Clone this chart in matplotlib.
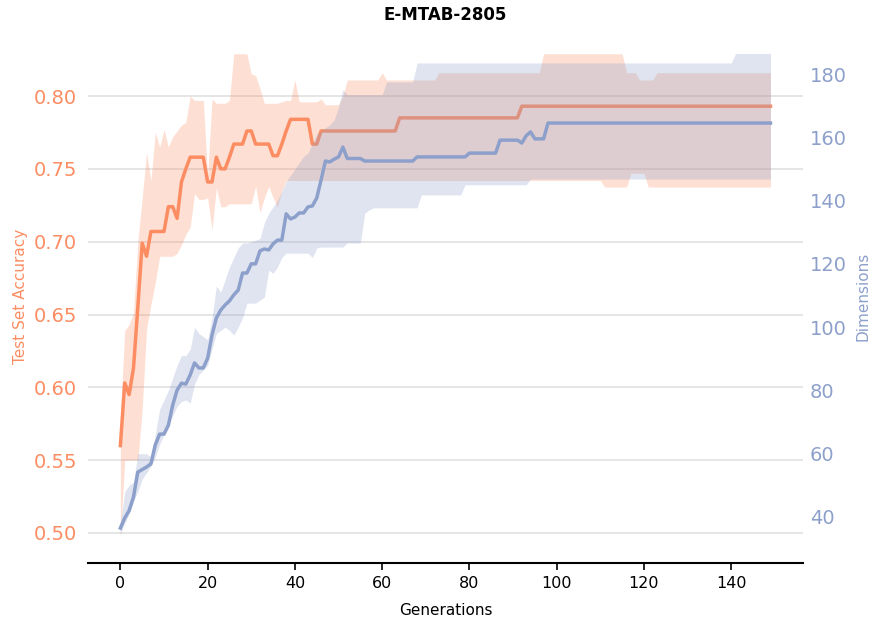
import matplotlib
matplotlib.use("Agg")
import matplotlib.pyplot as plt
import numpy as np

# values, one per generation (0..149)
generations = np.arange(150)

acc_mean = ([0.560, 0.603, 0.595, 0.613, 0.655, 0.699, 0.690, 0.707, 0.707, 0.707,
             0.707, 0.724, 0.724, 0.716, 0.741, 0.750, 0.758, 0.758, 0.758, 0.758,
             0.741, 0.741, 0.758, 0.750, 0.750, 0.758, 0.767, 0.767, 0.767, 0.776,
             0.776, 0.767, 0.767, 0.767, 0.767, 0.759, 0.759, 0.767, 0.776, 0.784,
             0.784, 0.784, 0.784, 0.784, 0.767, 0.767]
            + [0.776] * 18 + [0.785] * 28 + [0.793] * 58)

acc_upper = ([0.580, 0.639, 0.643, 0.651, 0.700, 0.730, 0.761, 0.742, 0.775, 0.765,
              0.777, 0.765, 0.772, 0.776, 0.780, 0.782, 0.800, 0.797, 0.797, 0.797,
              0.745, 0.798, 0.795, 0.795, 0.795, 0.797, 0.829, 0.829, 0.829, 0.829,
              0.815, 0.814, 0.805, 0.795, 0.795, 0.795, 0.795, 0.796, 0.797, 0.797,
              0.811, 0.796, 0.796, 0.796, 0.796, 0.796, 0.798, 0.794, 0.794, 0.794,
              0.794, 0.800]
             + [0.811] * 8 + [0.816] + [0.811] * 12 + [0.816] * 24
             + [0.829] * 19 + [0.816] * 3 + [0.811] * 4 + [0.816] * 27)

acc_lower = ([0.497, 0.550, 0.550, 0.550, 0.550, 0.585, 0.640, 0.657, 0.672, 0.690,
              0.690, 0.690, 0.690, 0.692, 0.698, 0.705, 0.710, 0.733, 0.729, 0.729,
              0.730, 0.708, 0.737, 0.724, 0.724, 0.726, 0.726, 0.726, 0.726, 0.726,
              0.726, 0.738, 0.720, 0.730, 0.738, 0.730, 0.724, 0.735, 0.742]
             + [0.742] * 72 + [0.7375] * 6 + [0.747] * 4 + [0.7375] * 29)

dim_mean = ([36.5, 39.7, 42.0, 46.3, 54.2, 55.0, 55.8, 56.8, 62.8, 66.2,
             66.2, 69.0, 75.4, 80.1, 82.3, 82.0, 84.9, 88.7, 87.1, 87.1,
             90.2, 97.5, 102.9, 105.4, 107.0, 108.3, 110.2, 111.7, 117.1, 117.1,
             120.0, 120.0, 124.1, 124.7, 124.4, 126.3, 127.5, 127.5, 135.8, 134.2,
             134.8, 136.1, 136.1, 138.0, 138.3, 140.8, 146.5, 152.5, 152.2, 153.1,
             153.8, 156.9]
            + [153.3] * 4 + [152.5] * 12 + [153.8] * 12 + [155.0] * 7
            + [159.1] * 5 + [158.2, 160.5, 161.7, 159.5, 159.5, 159.5]
            + [164.5] * 52)

dim_upper = ([38, 48, 50, 51, 60, 60, 60, 59, 66, 74,
              77, 80, 84, 88, 91, 91, 93, 100, 98, 97,
              96, 103, 113, 111, 115, 119, 122, 125, 126.6, 126.6,
              127, 127.5, 128, 133, 136, 138, 140, 143, 146, 148,
              150, 152, 154, 155, 158, 161, 162, 163, 164, 165.5,
              169.6, 175]
             + [173.5] * 9 + [177.5] * 7 + [183.5] * 73 + [186.5] * 9)

dim_lower = ([34.5, 38, 41, 45, 48, 52, 54, 56, 59, 63,
              66, 69, 72, 75, 76.5, 77, 76, 82, 85, 86.5,
              88, 93, 98, 99, 100, 99, 97.5, 100, 103, 107.6,
              107.6, 107.6, 108.5, 109.5, 118, 117, 119, 122, 123.4, 123.4,
              123.4, 123.4, 123.4, 123.4, 122, 125]
             + [125.3] * 6 + [126.6] * 4 + [136, 137] + [137.7] * 11
             + [141.8] * 10 + [145] * 15 + [146.8] * 56)

acc_ticks = [0.50, 0.55, 0.60, 0.65, 0.70, 0.75, 0.80]
dim_ticks = [40, 60, 80, 100, 120, 140, 160, 180]
x_ticks = [0, 20, 40, 60, 80, 100, 120, 140]

orange = "#fc8d62"
blue = "#8da0cb"

fig = plt.figure(figsize=(8.7, 6.23), dpi=100)
ax = fig.add_axes([0.101, 0.0963, 0.822, 0.8555])
ax2 = ax.twinx()

ax.set_axisbelow(True)
ax.grid(axis="y", color="#e3e3e3", linewidth=1.3)
ax.fill_between(generations, acc_lower, acc_upper, color=orange, alpha=0.28, linewidth=0)
ax.plot(generations, acc_mean, color=orange, linewidth=2.5)

ax2.fill_between(generations, dim_lower, dim_upper, color=blue, alpha=0.28, linewidth=0)
ax2.plot(generations, dim_mean, color=blue, linewidth=2.5)

ax.set_xlim(-7.45, 156.45)
ax.set_ylim(0.4794, 0.8453)
ax2.set_ylim(25.46, 193.9)
ax.set_xticks(x_ticks)
ax.set_yticks(acc_ticks)
ax2.set_yticks(dim_ticks)
ax.set_yticklabels([f"{v:.2f}" for v in acc_ticks])

for a in (ax, ax2):
    for side in ("left", "right", "top"):
        a.spines[side].set_visible(False)
ax.spines["bottom"].set_linewidth(1.5)
ax2.spines["bottom"].set_visible(False)

ax.tick_params(axis="x", labelsize=11.5, length=5, width=1.2, pad=4)
ax.tick_params(axis="y", labelsize=14, length=0, pad=8, labelcolor=orange)
ax2.tick_params(axis="y", labelsize=14, length=0, pad=5, labelcolor=blue)

ax.set_xlabel("Generations", fontsize=11, labelpad=9)
ax.set_ylabel("Test Set Accuracy", fontsize=11, color=orange, labelpad=4)
ax2.set_ylabel("Dimensions", fontsize=11, color=blue, labelpad=6)
ax.set_title("E-MTAB-2805", fontsize=12, fontweight="bold", pad=7)

fig.savefig("out.png", dpi=100)
